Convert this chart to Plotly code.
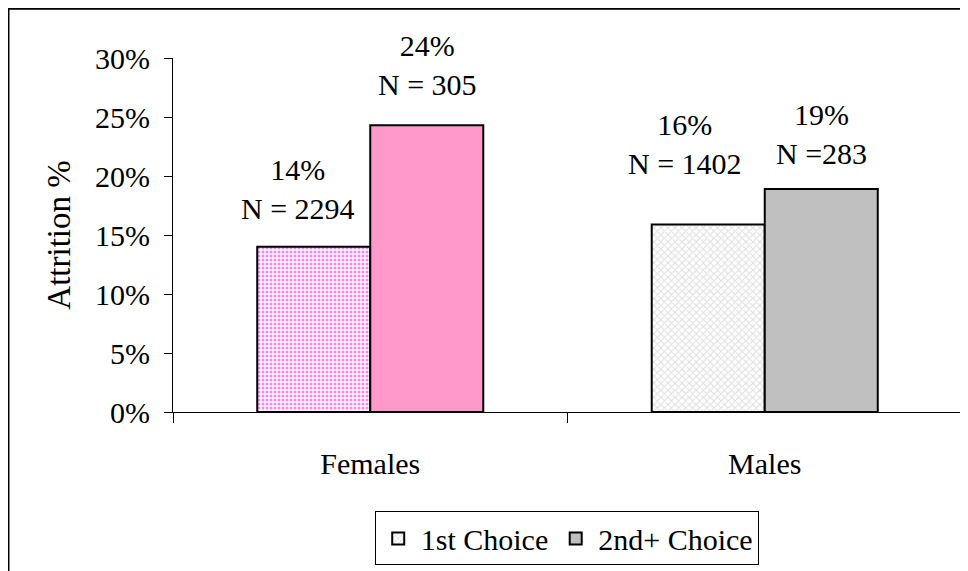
import plotly.graph_objects as go

categories = ["Females", "Males"]
first_choice = [0.140, 0.159]
second_choice = [0.243, 0.189]
first_labels = ["14%<br>N = 2294", "16%<br>N = 1402"]
second_labels = ["24%<br>N = 305", "19%<br>N =283"]
series_names = ["1st Choice", "2nd+ Choice"]
y_ticks = [0, 0.05, 0.10, 0.15, 0.20, 0.25, 0.30]

FONT = "Liberation Serif, Times New Roman, serif"
FS = 30

fig = go.Figure()

# Females (no legend), Males (legend) share offset groups per series
fig.add_trace(go.Bar(
    x=[categories[0]], y=[first_choice[0]], name=series_names[0],
    offsetgroup="first", showlegend=False,
    marker=dict(color="white", line=dict(color="black", width=2),
                pattern=dict(shape=".", fgcolor="#FF00FF", bgcolor="white", size=4, solidity=0.45)),
))
fig.add_trace(go.Bar(
    x=[categories[0]], y=[second_choice[0]], name=series_names[1],
    offsetgroup="second", showlegend=False,
    marker=dict(color="#FF99CC", line=dict(color="black", width=2)),
))
fig.add_trace(go.Bar(
    x=[categories[1]], y=[first_choice[1]], name=series_names[0],
    offsetgroup="first", showlegend=True,
    marker=dict(color="white", line=dict(color="black", width=2),
                pattern=dict(shape="x", fgcolor="#BBBBBB", bgcolor="white", size=5, solidity=0.35)),
))
fig.add_trace(go.Bar(
    x=[categories[1]], y=[second_choice[1]], name=series_names[1],
    offsetgroup="second", showlegend=True,
    marker=dict(color="#C0C0C0", line=dict(color="black", width=2)),
))

# value labels
label_specs = [
    (categories[0], first_choice[0], first_labels[0], -72, 20),
    (categories[0], second_choice[0], second_labels[0], 57, 22),
    (categories[1], first_choice[1], first_labels[1], -80, 42),
    (categories[1], second_choice[1], second_labels[1], 57, 17),
]
for cat, val, txt, xs, ys in label_specs:
    fig.add_annotation(
        x=cat, y=val, xref="x", yref="y", text=txt, showarrow=False,
        xanchor="center", yanchor="bottom", xshift=xs, yshift=ys,
        font=dict(family=FONT, size=FS, color="black"),
    )

# outer frame
fig.add_shape(type="rect", xref="paper", yref="paper",
              x0=-0.2085, x1=1.5, y0=-1.0, y1=1.139,
              line=dict(color="black", width=2), fillcolor="rgba(0,0,0,0)", layer="below")

fig.update_layout(
    width=960, height=563,
    margin=dict(l=165, r=6, t=50, b=157, pad=0),
    paper_bgcolor="white", plot_bgcolor="white",
    barmode="group", bargap=0.427, bargroupgap=0,
    font=dict(family=FONT, size=FS, color="black"),
    showlegend=True,
    legend=dict(
        orientation="h", x=0.499, xanchor="center", y=-0.357, yanchor="middle",
        bordercolor="black", borderwidth=1, bgcolor="white",
        font=dict(family=FONT, size=FS, color="black"),
        itemsizing="constant", itemwidth=35,
    ),
    xaxis=dict(
        type="category", categoryorder="array", categoryarray=categories,
        showline=True, linecolor="black", linewidth=1,
        ticks="outside", tickson="boundaries", ticklen=10, tickcolor="black",
        ticklabelstandoff=25, showgrid=False, zeroline=False,
        tickfont=dict(family=FONT, size=FS, color="black"),
    ),
    yaxis=dict(
        range=[0, 0.30], tickvals=y_ticks, tickformat=".0%",
        showline=True, linecolor="black", linewidth=1,
        ticks="outside", ticklen=8, tickcolor="black",
        ticklabelstandoff=8, showgrid=False, zeroline=False,
        tickfont=dict(family=FONT, size=FS, color="black"),
        title=dict(text="Attrition %", standoff=14,
                   font=dict(family=FONT, size=33, color="black")),
    ),
)

fig.write_html("out.html")
